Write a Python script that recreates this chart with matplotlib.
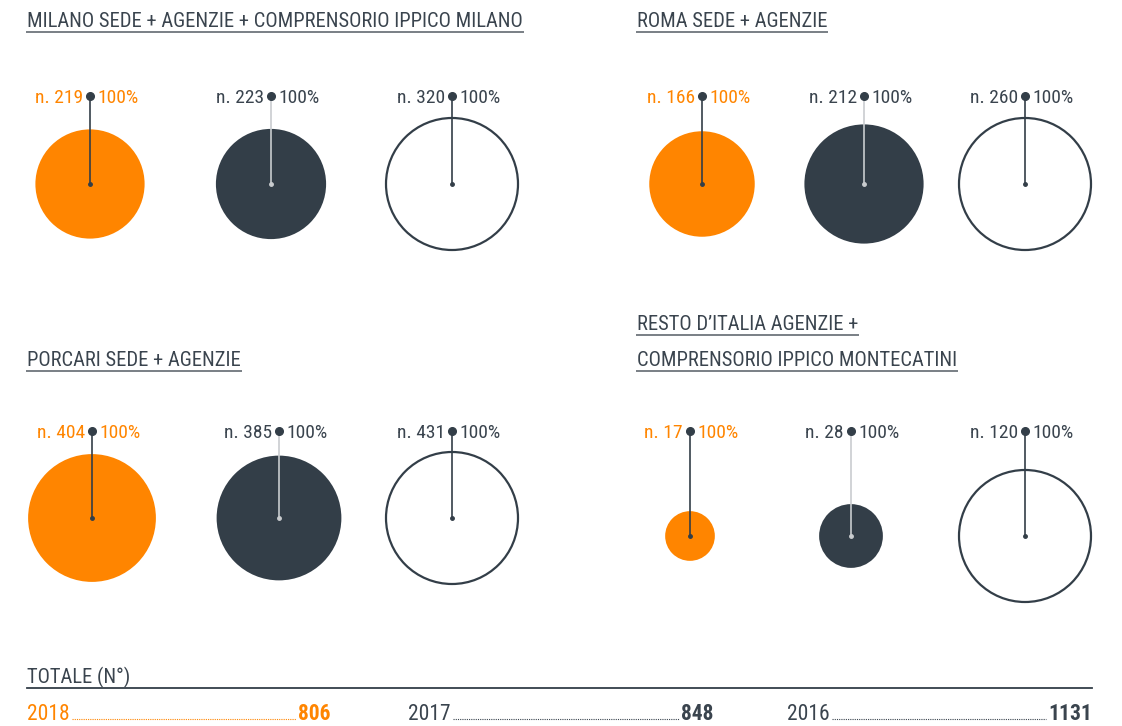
import matplotlib
matplotlib.use("Agg")
import matplotlib.pyplot as plt
from matplotlib.patches import Circle
from matplotlib import font_manager as fm
import numpy as np

# ---------------- data ----------------
group_titles = [
    "MILANO SEDE + AGENZIE + COMPRENSORIO IPPICO MILANO",
    "ROMA SEDE + AGENZIE",
    "PORCARI SEDE + AGENZIE",
    "RESTO D\u2019ITALIA AGENZIE +\nCOMPRENSORIO IPPICO MONTECATINI",
]
milano_values = [219, 223, 320]
roma_values = [166, 212, 260]
porcari_values = [404, 385, 431]
resto_values = [17, 28, 120]
percent_labels = ["100%", "100%", "100%"]
years = ["2018", "2017", "2016"]
totals = [806, 848, 1131]
total_title = "TOTALE (N°)"

# ---------------- style ----------------
ORANGE = "#FF8500"
DARK = "#333E48"
TEXT = "#3A444E"
LIGHT = "#C9CCCF"

names = {f.name for f in fm.fontManager.ttflist}
FONT = "DejaVu Sans"
for cand in ["Roboto Condensed", "Liberation Sans Narrow", "Open Sans Condensed", "DejaVu Sans Condensed"]:
    if cand in names:
        FONT = cand
        break
plt.rcParams["font.family"] = [FONT, "DejaVu Sans"]

W, H = 1122, 726
fig = plt.figure(figsize=(W / 100, H / 100), dpi=100)
ax = fig.add_axes([0, 0, 1, 1])
ax.set_xlim(0, W)
ax.set_ylim(H, 0)
ax.axis("off")
renderer = fig.canvas.get_renderer()


def text_width(t):
    bb = t.get_window_extent(renderer=renderer)
    return bb.width


def title(x, y, s, fs=14.8):
    t = ax.text(x, y, s, fontsize=fs, color=TEXT, ha="left", va="baseline")
    w = text_width(t)
    ax.plot([x - 1, x + w + 1], [y + 5, y + 5], color="#6E757C", lw=1.3, solid_capstyle="butt")


# group layout: (values, x centers, circle center y, label y)
groups = [
    (milano_values, [90, 271, 452], 184, 96),
    (roma_values, [702, 864, 1025], 184, 96),
    (porcari_values, [92, 279, 452], 518, 431),
    (resto_values, [690, 851, 1025], 536, 431),
]
RMAX = 66
styles = [
    dict(fc=ORANGE, ec="none", line=DARK, lab=ORANGE),
    dict(fc=DARK, ec="none", line=LIGHT, lab=TEXT),
    dict(fc="white", ec=DARK, line=DARK, lab=TEXT),
]

for values, xs, cy, ly in groups:
    vmax = max(values)
    for i, (v, cx) in enumerate(zip(values, xs)):
        st = styles[i]
        r = RMAX * np.sqrt(v / vmax)
        ax.add_patch(Circle((cx, cy), r, facecolor=st["fc"], edgecolor=st["ec"],
                            lw=1.6 if st["ec"] != "none" else 0, zorder=2))
        ax.plot([cx, cx], [ly, cy], color=st["line"], lw=1.2, zorder=3)
        ax.plot(cx, cy, "o", ms=2.5, color=st["line"], zorder=4)
        ax.plot(cx, ly, "o", ms=5.5, color=DARK, zorder=4)
        ax.text(cx - 7, ly + 7, f"n. {v}", fontsize=14, color=st["lab"], ha="right", va="baseline")
        ax.text(cx + 7, ly + 7, percent_labels[i], fontsize=14, color=st["lab"], ha="left", va="baseline")

# titles
title(27, 27, group_titles[0])
title(637, 27, group_titles[1])
title(27, 366, group_titles[2])
l1, l2 = group_titles[3].split("\n")
title(637, 330, l1)
title(637, 366, l2)

# totals
ax.text(27, 683, total_title, fontsize=14.8, color=TEXT, ha="left", va="baseline")
ax.plot([27, 1092], [688, 688], color=DARK, lw=1.3)
starts = [27, 408, 787]
ends = [331, 713, 1092]
for i, (yr, tot, x0, x1) in enumerate(zip(years, totals, starts, ends)):
    col = ORANGE if i == 0 else TEXT
    t1 = ax.text(x0, 720, yr, fontsize=15.5, color=col, ha="left", va="baseline")
    t2 = ax.text(x1, 720, str(tot), fontsize=15.5, color=col, ha="right", va="baseline",
                 fontweight="bold")
    w1 = text_width(t1)
    w2 = text_width(t2)
    ax.plot([x0 + w1 + 2, x1 - w2 - 2], [719, 719], color=col, lw=0.8,
            linestyle=(0, (1, 1)))

fig.savefig("out.png", dpi=100, facecolor="white")
